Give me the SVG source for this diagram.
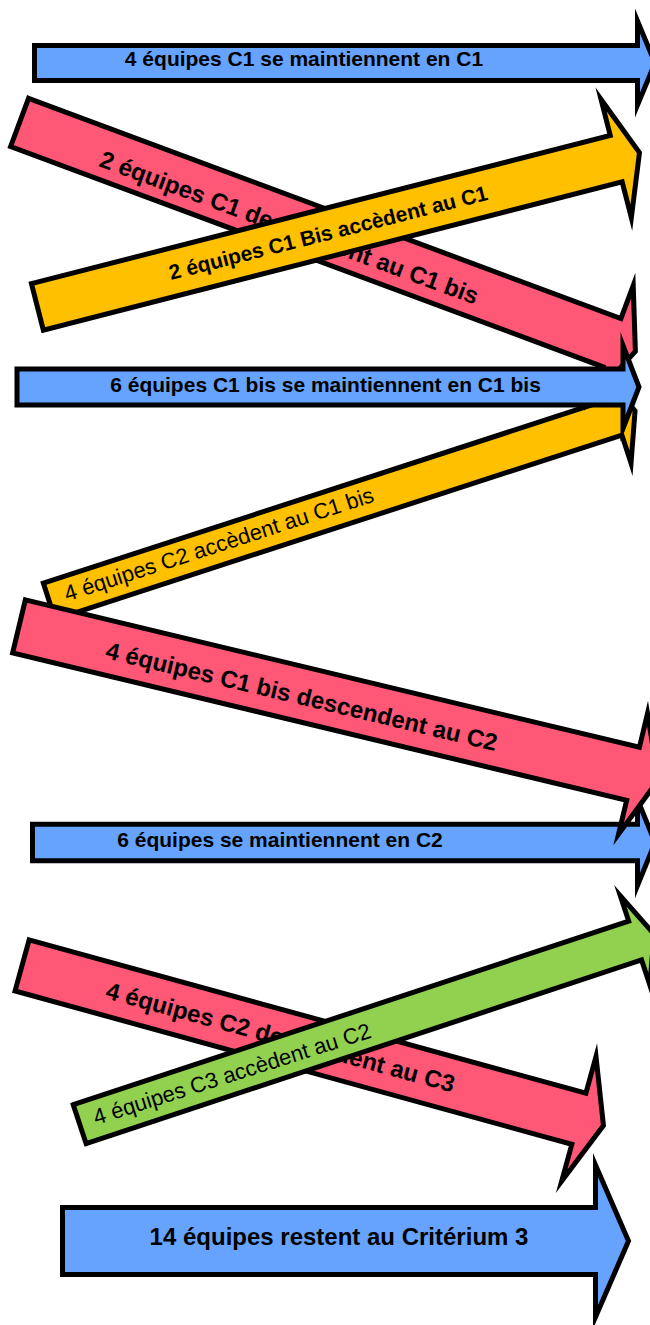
<svg xmlns="http://www.w3.org/2000/svg" width="650" height="1325" viewBox="0 0 650 1325">
<style>
.a{stroke:#000;stroke-width:5;stroke-linejoin:miter;stroke-miterlimit:12}
.blue{fill:#66a3ff}.red{fill:#ff5776}.yel{fill:#ffc000}.grn{fill:#92d050}
.t{font-family:"Liberation Sans",Arial,sans-serif;fill:#000}
.b{font-weight:bold;font-size:21px}
.rb{font-weight:bold;font-size:24px}
.r{font-weight:normal;font-size:22px}
</style>
<rect width="650" height="1325" fill="#fff"/>
<g id="connectors"/>
<g id="n1">
<path class="a blue" transform="translate(34.5,63)" d="M0,-17.5 H603 V-42 L620.5,0 L603,42 V17.5 H0 Z"/>
<text class="t b" x="304" y="66" text-anchor="middle">4 équipes C1 se maintiennent en C1</text>
</g>
<g id="n4">
<path class="a yel" transform="translate(49.2,601.2) rotate(-18)" d="M0,-19 H596 V-48.5 L616,0 L596,48.5 V19 H0 Z"/>
<text class="t r" transform="translate(67,601.5) rotate(-18)" x="0" y="0">4 équipes C2 accèdent au C1 bis</text>
</g>
<g id="n2">
<path class="a red" transform="translate(19.6,122.4) rotate(20.4)" d="M0,-25.7 H632 V-61 L657,0 L632,61 V25.7 H0 Z"/>
<text class="t rb" transform="translate(98,166) rotate(20.2)" x="0" y="0">2 équipes C1 descendent au C1 bis</text>
</g>
<g id="n3">
<path class="a yel" transform="translate(37.4,306.9) rotate(-14.37)" d="M0,-24 H597.5 V-61 L621.5,0 L597.5,61 V24 H0 Z"/>
<text class="t b" transform="translate(171,280) rotate(-14.2)" x="0" y="0">2 équipes C1 Bis accèdent au C1</text>
</g>
<g id="n5">
<path class="a blue" transform="translate(17,387)" d="M0,-18 H606 V-41.5 L622,0 L606,41.5 V18 H0 Z"/>
<text class="t b" x="325.5" y="392" text-anchor="middle">6 équipes C1 bis se maintiennent en C1 bis</text>
</g>
<g id="n7">
<path class="a blue" transform="translate(32.5,842.5)" d="M0,-18.3 H605 V-43 L622.5,0 L605,43 V18.3 H0 Z"/>
<text class="t b" x="280" y="847" text-anchor="middle">6 équipes se maintiennent en C2</text>
</g>
<g id="n6">
<path class="a red" transform="translate(19,626.4) rotate(13.5)" d="M0,-27.3 H631.5 V-62 L657.5,0 L631.5,62 V27.3 H0 Z"/>
<text class="t rb" transform="translate(104.5,658) rotate(13.4)" x="0" y="0">4 équipes C1 bis descendent au C2</text>
</g>
<g id="n8">
<path class="a red" transform="translate(22.1,965.4) rotate(15.4)" d="M0,-26.5 H577.5 V-64.5 L603,0 L577.5,64.5 V26.5 H0 Z"/>
<text class="t rb" transform="translate(104.5,998) rotate(15.2)" x="0" y="0">4 équipes C2 descendent au C3</text>
</g>
<g id="n9">
<path class="a grn" transform="translate(79.7,1124.2) rotate(-18.3)" d="M0,-20.5 H585 V-47 L605,0 L585,47 V20.5 H0 Z"/>
<text class="t r" transform="translate(96,1125) rotate(-17.6)" x="0" y="0">4 équipes C3 accèdent au C2</text>
</g>
<g id="n10">
<path class="a blue" transform="translate(62.5,1241)" d="M0,-33.5 H533 V-76 L566,0 L533,76 V33.5 H0 Z"/>
<text class="t" style="font-weight:bold;font-size:24px" x="339" y="1245" text-anchor="middle">14 équipes restent au Critérium 3</text>
</g>
</svg>
